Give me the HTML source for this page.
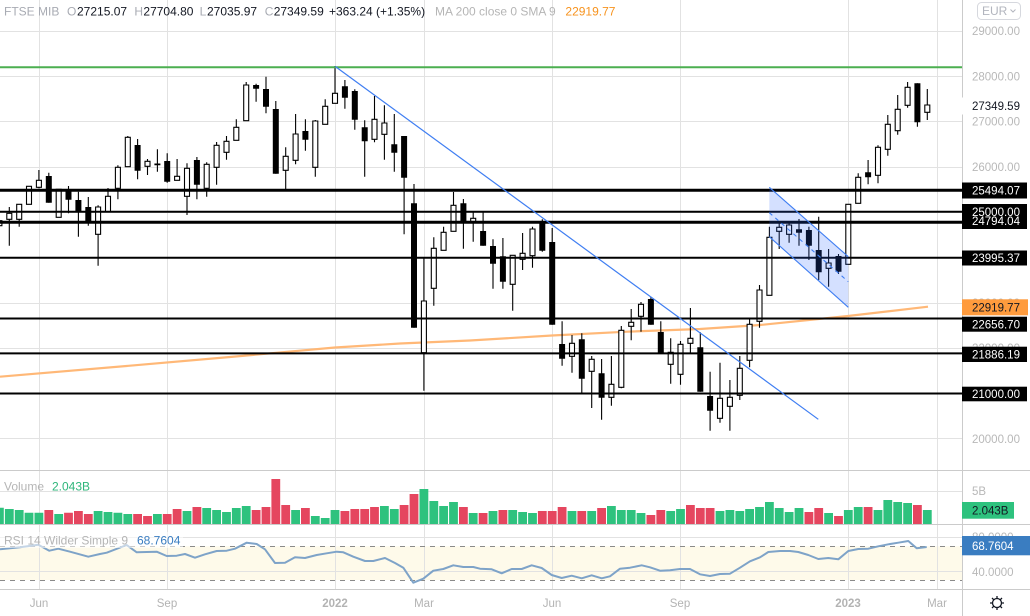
<!DOCTYPE html>
<html><head><meta charset="utf-8"><style>
html,body{margin:0;padding:0;background:#fff;width:1030px;height:616px;overflow:hidden}
svg{display:block}
</style></head><body>
<svg width="1030" height="616" xmlns="http://www.w3.org/2000/svg" font-family="'Liberation Sans', Arial, sans-serif">
<rect width="1030" height="616" fill="#fff"/>
<!-- RSI band -->
<rect x="0" y="546.3" width="962" height="33.7" fill="#fefaea"/>
<!-- grid -->
<g stroke="#e2e2e2" stroke-width="1">
<path d="M0 31.5H962M0 76.5H962M0 121.5H962M0 167.5H962M0 212.5H962M0 257.5H962M0 303.5H962M0 348.5H962M0 393.5H962M0 438.5H962M0 491.5H962M0 537.5H962M0 571.5H962"/>
<path d="M39.5 0V589M167.5 0V589M335.5 0V589M424.5 0V589M552.5 0V589M680.5 0V589M848.5 0V589M937.5 0V589"/>
</g>
<g stroke="#8a8a8a" stroke-width="1" stroke-dasharray="5 5">
<path d="M0 546.5H962M0 580.5H962"/>
</g>
<!-- separators -->
<g stroke="#cbcbcb" stroke-width="1">
<path d="M0 470.5H1030M0 524.5H1030M0 589.5H1030M962.5 0V616"/>
</g>
<!-- volume -->
<path fill="#2ec27e" d="M-5 507.7h8.8V524h-8.8zM4.9 509h8.8V524h-8.8zM14.8 510h8.8V524h-8.8zM24.6 512.7h8.8V524h-8.8zM34.5 512.7h8.8V524h-8.8zM54.3 514h8.8V524h-8.8zM93.7 511h8.8V524h-8.8zM103.6 512h8.8V524h-8.8zM113.5 512.7h8.8V524h-8.8zM123.4 514h8.8V524h-8.8zM153 514h8.8V524h-8.8zM182.6 511h8.8V524h-8.8zM202.3 508h8.8V524h-8.8zM212.2 510h8.8V524h-8.8zM222.1 512h8.8V524h-8.8zM231.9 508h8.8V524h-8.8zM241.8 506h8.8V524h-8.8zM291.2 510h8.8V524h-8.8zM310.9 516h8.8V524h-8.8zM320.8 518h8.8V524h-8.8zM330.6 510h8.8V524h-8.8zM380 506h8.8V524h-8.8zM389.9 509h8.8V524h-8.8zM419.5 489h8.8V524h-8.8zM429.4 501h8.8V524h-8.8zM439.2 506h8.8V524h-8.8zM449.1 502h8.8V524h-8.8zM468.8 513h8.8V524h-8.8zM488.6 511h8.8V524h-8.8zM508.3 510h8.8V524h-8.8zM518.2 512h8.8V524h-8.8zM528.1 513h8.8V524h-8.8zM567.6 511h8.8V524h-8.8zM587.3 511h8.8V524h-8.8zM607 506h8.8V524h-8.8zM616.9 510h8.8V524h-8.8zM626.8 510h8.8V524h-8.8zM636.6 513h8.8V524h-8.8zM666.3 511h8.8V524h-8.8zM676.1 509h8.8V524h-8.8zM715.6 511h8.8V524h-8.8zM725.5 510h8.8V524h-8.8zM735.4 511h8.8V524h-8.8zM745.2 509h8.8V524h-8.8zM755.1 507h8.8V524h-8.8zM765 502h8.8V524h-8.8zM774.8 508h8.8V524h-8.8zM784.7 512h8.8V524h-8.8zM794.6 508h8.8V524h-8.8zM824.2 513h8.8V524h-8.8zM843.9 510h8.8V524h-8.8zM853.8 507h8.8V524h-8.8zM873.6 510h8.8V524h-8.8zM883.4 500h8.8V524h-8.8zM893.3 502h8.8V524h-8.8zM903.2 503h8.8V524h-8.8zM922.9 510h8.8V524h-8.8z"/>
<path fill="#e5465f" d="M44.4 510h8.8V524h-8.8zM64.1 512.7h8.8V524h-8.8zM74 511h8.8V524h-8.8zM83.9 514h8.8V524h-8.8zM133.2 514h8.8V524h-8.8zM143.1 516h8.8V524h-8.8zM162.8 514h8.8V524h-8.8zM172.7 509h8.8V524h-8.8zM192.5 507h8.8V524h-8.8zM251.7 510h8.8V524h-8.8zM261.6 507h8.8V524h-8.8zM271.4 479h8.8V524h-8.8zM281.3 505h8.8V524h-8.8zM301 508h8.8V524h-8.8zM340.5 511h8.8V524h-8.8zM350.4 509h8.8V524h-8.8zM360.3 509h8.8V524h-8.8zM370.1 507h8.8V524h-8.8zM399.7 505h8.8V524h-8.8zM409.6 494h8.8V524h-8.8zM459 507h8.8V524h-8.8zM478.7 513h8.8V524h-8.8zM498.5 510h8.8V524h-8.8zM537.9 511h8.8V524h-8.8zM547.8 511h8.8V524h-8.8zM557.7 507h8.8V524h-8.8zM577.4 511h8.8V524h-8.8zM597.2 508h8.8V524h-8.8zM646.5 515h8.8V524h-8.8zM656.4 510h8.8V524h-8.8zM686 505h8.8V524h-8.8zM695.9 508h8.8V524h-8.8zM705.7 508h8.8V524h-8.8zM804.5 512h8.8V524h-8.8zM814.3 508h8.8V524h-8.8zM834.1 516h8.8V524h-8.8zM863.7 507h8.8V524h-8.8zM913 505h8.8V524h-8.8z"/>
<!-- MA 200 -->
<polyline fill="none" stroke="#ffb877" stroke-width="2.2" stroke-linejoin="round" points="0,376.7 130,365.7 230,357 335,347.5 400,343.5 470,340.5 552,335.5 627,331.7 700,329 760,325 848,316 928,306.7"/>
<!-- candles: wicks -->
<path fill="none" stroke="#000" stroke-width="1.1" d="M-0.6 219V227M9.3 207V245.7M19.2 204.3V226.7M29 186.3V204.3M38.9 170V188.3M48.8 172.7V202.7M58.7 189.3V217.3M68.5 186V213.3M78.4 191.7V236.7M88.3 197V225.7M98.1 205.3V265.7M108 188V212M117.9 165.3V199.3M127.8 136V166.7M137.6 139V179.3M147.5 159V175M157.4 149.3V171.7M167.2 153.3V182.7M177.1 159V180.3M187 163.3V215M196.9 157V199.3M206.7 162.3V196.7M216.6 142V184.7M226.5 136V159.7M236.3 119.3V140.3M246.2 82V120.7M256.1 83.7V101.7M266 76.7V113.3M275.8 101V173.7M285.7 147.3V189.3M295.6 114V164.3M305.4 119.3V150.7M315.3 120V176.7M325.2 99.3V124.3M335 66V103.3M344.9 80V108.7M354.8 89.3V129.7M364.7 120.3V176.7M374.5 96V142.3M384.4 105.3V159.7M394.3 114V171.7M404.1 136V234.3M414 184V327.7M423.9 258.3V390.7M433.8 237.3V305.7M443.6 226.7V250.3M453.5 192V231.3M463.4 199V248.7M473.2 212.3V241.7M483.1 212.3V245.7M493 239.3V288.7M502.9 238V288.7M512.7 255.3V310.7M522.6 233V270M532.5 226.7V267.7M542.3 219.3V251.7M552.2 228V324.7M562.1 321.3V365.7M572 335V372.7M581.8 333.3V392.7M591.7 356V408M601.6 359V419.7M611.4 356V405.7M621.3 326V388.3M631.2 309V340.3M641 302V331.7M650.9 296.7V324.7M660.8 321.3V353.7M670.7 338.3V383.7M680.5 341V384.7M690.4 308V353.3M700.3 332.3V391.7M710.1 371.7V430.7M720 362.7V422.7M729.9 380V430.7M739.8 356V400M749.6 319.3V367.3M759.5 285V327.7M769.4 226.7V295.3M779.2 221.7V249M789.1 221.7V242.7M799 219V245.7M808.9 226.7V260M818.7 216.7V280M828.6 249V286.7M838.5 254V274M848.3 204.3V264.3M858.2 173.3V203.3M868.1 160V184.3M878 145.3V183.3M887.8 115V155.7M897.7 95V134.7M907.6 82V107.7M917.4 83.3V126.7M927.3 89V120"/>
<!-- black bodies -->
<path fill="#000" d="M45.8 176h6V202.7h-6zM65.5 190.7h6V199.7h-6zM75.4 200h6V211h-6zM85.3 207h6V221.7h-6zM134.6 145h6V170.7h-6zM154.4 163.5h6V165.2h-6zM164.2 161h6V181.7h-6zM193.9 160h6V184.7h-6zM253.1 85h6V88.7h-6zM263 89h6V106.7h-6zM272.8 109h6V173.7h-6zM302.4 131h6V139.7h-6zM341.9 86.3h6V97.7h-6zM351.8 91h6V119.7h-6zM361.7 127.3h6V141.3h-6zM391.3 144.3h6V152.7h-6zM401.1 136h6V177.7h-6zM411 203.3h6V327.7h-6zM460.4 203.3h6V222.3h-6zM480.1 231h6V245.7h-6zM490 246h6V263.7h-6zM499.9 256.3h6V281.7h-6zM539.3 221.7h6V250.7h-6zM549.2 242h6V324.7h-6zM559.1 344h6V358.7h-6zM578.8 339.3h6V378.7h-6zM598.6 373.3h6V397.7h-6zM647.9 299h6V324.7h-6zM657.8 332h6V353.7h-6zM697.3 347.3h6V391.7h-6zM707.1 396h6V410.7h-6zM796 229.3h6V232.7h-6zM805.9 230h6V245.7h-6zM815.7 250h6V272.3h-6zM835.5 256h6V271.7h-6zM865.1 172.3h6V177.3h-6zM914.4 83.3h6V122.3h-6z"/>
<!-- hollow bodies -->
<path fill="#fff" stroke="#000" stroke-width="1.1" d="M-3.1 220.7h5V225.7h-5zM6.8 213.3h5V219.3h-5zM16.7 204.3h5V219.3h-5zM26.5 186.3h5V204.3h-5zM36.4 180.3h5V187.3h-5zM56.2 189.3h5V217.3h-5zM95.6 207h5V234.3h-5zM105.5 196.3h5V212h-5zM115.4 167.3h5V188.3h-5zM125.3 137.3h5V166.7h-5zM145 161.3h5V166.3h-5zM174.6 176.3h5V180.3h-5zM184.5 168.3h5V196.3h-5zM204.2 164.3h5V188.3h-5zM214.1 145.3h5V167.3h-5zM224 141.3h5V152.3h-5zM233.8 127.3h5V140.3h-5zM243.7 85h5V120.7h-5zM283.2 156.3h5V170.3h-5zM293.1 134h5V160.3h-5zM312.8 121h5V167.3h-5zM322.7 106.3h5V124.3h-5zM332.5 93.3h5V103.3h-5zM372 119.3h5V139.3h-5zM381.9 123h5V134.3h-5zM421.4 301h5V352.7h-5zM431.3 248.3h5V288.3h-5zM441.1 232.3h5V250.3h-5zM451 205.3h5V231.3h-5zM470.7 218.3h5V222.3h-5zM510.2 255.3h5V284.3h-5zM520.1 253.3h5V259.3h-5zM530 229h5V255.7h-5zM569.5 343.3h5V356.3h-5zM589.2 359.3h5V371.3h-5zM608.9 384.3h5V397.3h-5zM618.8 330.3h5V387.3h-5zM628.7 322.3h5V326.3h-5zM638.5 304.3h5V316.3h-5zM668.2 352.3h5V364.3h-5zM678 344.3h5V374.3h-5zM687.9 338.3h5V343.3h-5zM717.5 398.3h5V418.3h-5zM727.4 397.3h5V406.3h-5zM737.3 368.3h5V395.3h-5zM747.1 324.3h5V360.3h-5zM757 290h5V321.3h-5zM766.9 237.3h5V295.3h-5zM776.7 227.3h5V231.3h-5zM786.6 225h5V234.3h-5zM826.1 263h5V268.3h-5zM845.8 204.3h5V264.3h-5zM855.7 177.3h5V203.3h-5zM875.5 147.3h5V175.3h-5zM885.3 124.3h5V149.3h-5zM895.2 109.3h5V130.7h-5zM905.1 87.3h5V105.3h-5zM924.8 105h5V112.3h-5z"/>
<!-- horizontal drawings -->
<line x1="0" y1="67.3" x2="962" y2="67.3" stroke="#4caf50" stroke-width="2"/>
<g stroke="#000">
<line x1="0" y1="190.3" x2="962" y2="190.3" stroke-width="3"/>
<line x1="0" y1="211.7" x2="962" y2="211.7" stroke-width="2"/>
<line x1="0" y1="222.3" x2="962" y2="222.3" stroke-width="3"/>
<line x1="0" y1="257.7" x2="962" y2="257.7" stroke-width="2"/>
<line x1="0" y1="318.5" x2="962" y2="318.5" stroke-width="2"/>
<line x1="0" y1="353.4" x2="962" y2="353.4" stroke-width="2"/>
<line x1="0" y1="393.5" x2="962" y2="393.5" stroke-width="2"/>
</g>
<!-- trendline -->
<line x1="335.3" y1="66.5" x2="818.3" y2="419.3" stroke="#3f7ef2" stroke-width="1.2"/>
<!-- channel -->
<polygon points="769.3,187.3 848.3,256.7 848.3,307.3 769.3,236.7" fill="#2962ff" fill-opacity="0.2"/>
<line x1="769.3" y1="187.3" x2="848.3" y2="256.7" stroke="#3f7ef2" stroke-width="1.1"/>
<line x1="769.3" y1="236.7" x2="848.3" y2="307.3" stroke="#3f7ef2" stroke-width="1.1"/>
<line x1="769.3" y1="212.7" x2="848.3" y2="281.7" stroke="#3f7ef2" stroke-width="1.1" stroke-dasharray="4 4"/>
<!-- RSI line -->
<polyline fill="none" stroke="#7ea3c8" stroke-width="2" stroke-linejoin="round" points="0,549.3 20,547.3 38.3,544.7 49.3,550.7 58.3,548.7 70,551.7 88.3,556.7 100,554 106.7,552.7 126.7,545 136.7,552.3 156.7,551.7 166.7,556 176.7,555.7 185,554 195,557.7 205,554.3 216.7,551 226.7,550.7 235,548.7 246.7,542.7 256.7,544 265,549.3 275,563 285,562.7 295,557.3 305,558 316.7,555 326.7,553.3 336.7,551.7 343.3,552.3 353.3,556.7 365,561 373.3,561 385,558 395,563 403.3,567.7 413.3,582.7 423.3,578.7 433.3,570.7 443.3,569 453.3,565.3 463.3,567 473.3,567 480,568.7 491.7,569.3 501.7,573.3 511.7,569 521.7,569 531.7,565.3 541.7,568 551.7,575 561.7,578 571.7,575.7 581.7,578.3 591.7,575.3 601.7,578.3 610,576.3 620,568.7 630,567.7 641.7,565.3 650,567.3 660,570.7 670,570.3 680,569 690,569 700,574.3 710,576 720,574 730,573.7 740,567.7 750,561.3 760,557.3 768.3,552 780,551 790,551 798.3,552 808.3,555 818.3,559 828.3,558 838.3,559.3 848.3,551 858.3,549 868.3,548.7 878.3,546.3 888.3,544.3 898.3,542.7 908.3,541 916.7,548.3 926.7,547"/>
<!-- pane legends -->
<rect x="0" y="532" width="183" height="16" fill="#fff" fill-opacity="0.55"/>
<g font-size="12">
<text x="4" y="490.3" fill="#b5b5b5">Volume</text>
<text x="52" y="490.3" fill="#2db57a">2.043B</text>
<text x="4" y="544.3" fill="#b5b5b5">RSI 14 Wilder Simple 9</text>
<text x="137" y="544.3" fill="#3a7dc1">68.7604</text>
</g>
<!-- top legend -->
<g font-size="12">
<text x="4" y="15.5" fill="#a8abb3">FTSE MIB</text>
<text x="67" y="15.5" fill="#a8abb3">O</text><text x="77" y="15.5" fill="#131722">27215.07</text>
<text x="134.4" y="15.5" fill="#a8abb3">H</text><text x="143.4" y="15.5" fill="#131722">27704.80</text>
<text x="199.6" y="15.5" fill="#a8abb3">L</text><text x="207" y="15.5" fill="#131722">27035.97</text>
<text x="264.8" y="15.5" fill="#a8abb3">C</text><text x="273.7" y="15.5" fill="#131722">27349.59</text>
<text x="329" y="15.5" fill="#131722">+363.24 (+1.35%)</text>
<text x="435" y="15.5" fill="#b5b5b5">MA 200 close 0 SMA 9</text>
<text x="565.4" y="15.5" fill="#f7931e">22919.77</text>
</g>
<!-- right axis gray labels -->
<g font-size="11.5" fill="#b8b8b8">
<text x="972" y="35.1">29000.00</text>
<text x="972" y="80.4">28000.00</text>
<text x="972" y="125.7">27000.00</text>
<text x="972" y="171">26000.00</text>
<text x="972" y="216.3">25000.00</text>
<text x="972" y="261.6">24000.00</text>
<text x="972" y="306.9">23000.00</text>
<text x="972" y="352.2">22000.00</text>
<text x="972" y="397.5">21000.00</text>
<text x="972" y="442.8">20000.00</text>
<text x="972" y="495.1">5B</text>
<text x="972" y="541">80.0000</text>
<text x="972" y="576.1">40.0000</text>
</g>
<!-- colored axis labels -->
<rect x="962" y="97.5" width="67" height="17" fill="#fff"/>
<g font-size="11.5">
<text x="972" y="110.2" fill="#131722">27349.59</text>
<rect x="962" y="182.5" width="65" height="16" fill="#000"/>
<text x="972" y="194.7" fill="#fff">25494.07</text>
<rect x="962" y="204" width="65" height="25" fill="#000"/>
<text x="972" y="215.8" fill="#fff">25000.00</text>
<text x="972" y="225.1" fill="#fff">24794.04</text>
<rect x="962" y="250.5" width="65" height="15" fill="#000"/>
<text x="972" y="262.1" fill="#fff">23995.37</text>
<rect x="962" y="299.3" width="66" height="16" fill="#ff9b3d"/>
<text x="972" y="311.4" fill="#131722">22919.77</text>
<rect x="962" y="316.7" width="65" height="15" fill="#000"/>
<text x="972" y="328.3" fill="#fff">22656.70</text>
<rect x="962" y="346.7" width="65" height="15.3" fill="#000"/>
<text x="972" y="358.4" fill="#fff">21886.19</text>
<rect x="962" y="386.7" width="65" height="14.6" fill="#000"/>
<text x="972" y="398.1" fill="#fff">21000.00</text>
<rect x="962" y="502" width="52" height="16.7" fill="#2ec27e"/>
<text x="972" y="514.5" fill="#131722">2.043B</text>
<rect x="962" y="536" width="68" height="19.3" fill="#3a7dc1"/>
<text x="972" y="549.8" fill="#fff">68.7604</text>
</g>
<!-- EUR button -->
<rect x="977.5" y="2.5" width="43" height="17" rx="4" fill="#fff" stroke="#d6d8de"/>
<text x="982" y="15" font-size="12" fill="#b2b5be">EUR</text>
<path d="M1010.5 9.5l2.5 2.5l2.5-2.5" fill="none" stroke="#b2b5be" stroke-width="1"/>
<!-- x axis labels -->
<g font-size="11.5" fill="#b3b3b3" text-anchor="middle">
<text x="39" y="607">Jun</text>
<text x="167" y="607">Sep</text>
<text x="335" y="607" font-weight="bold">2022</text>
<text x="424" y="607">Mar</text>
<text x="552" y="607">Jun</text>
<text x="680" y="607">Sep</text>
<text x="848" y="607" font-weight="bold">2023</text>
<text x="937" y="607">Mar</text>
</g>
<!-- gear -->
<g stroke="#131722" stroke-width="1.3" fill="none">
<circle cx="997" cy="603" r="4.5"/>
<path d="M997 596V598.3M997 607.7V610M990 603H992.3M1001.7 603H1004M992 598L993.7 599.7M1000.3 606.3L1002 608M1002 598L1000.3 599.7M993.7 606.3L992 608"/>
</g>
</svg>
</body></html>
